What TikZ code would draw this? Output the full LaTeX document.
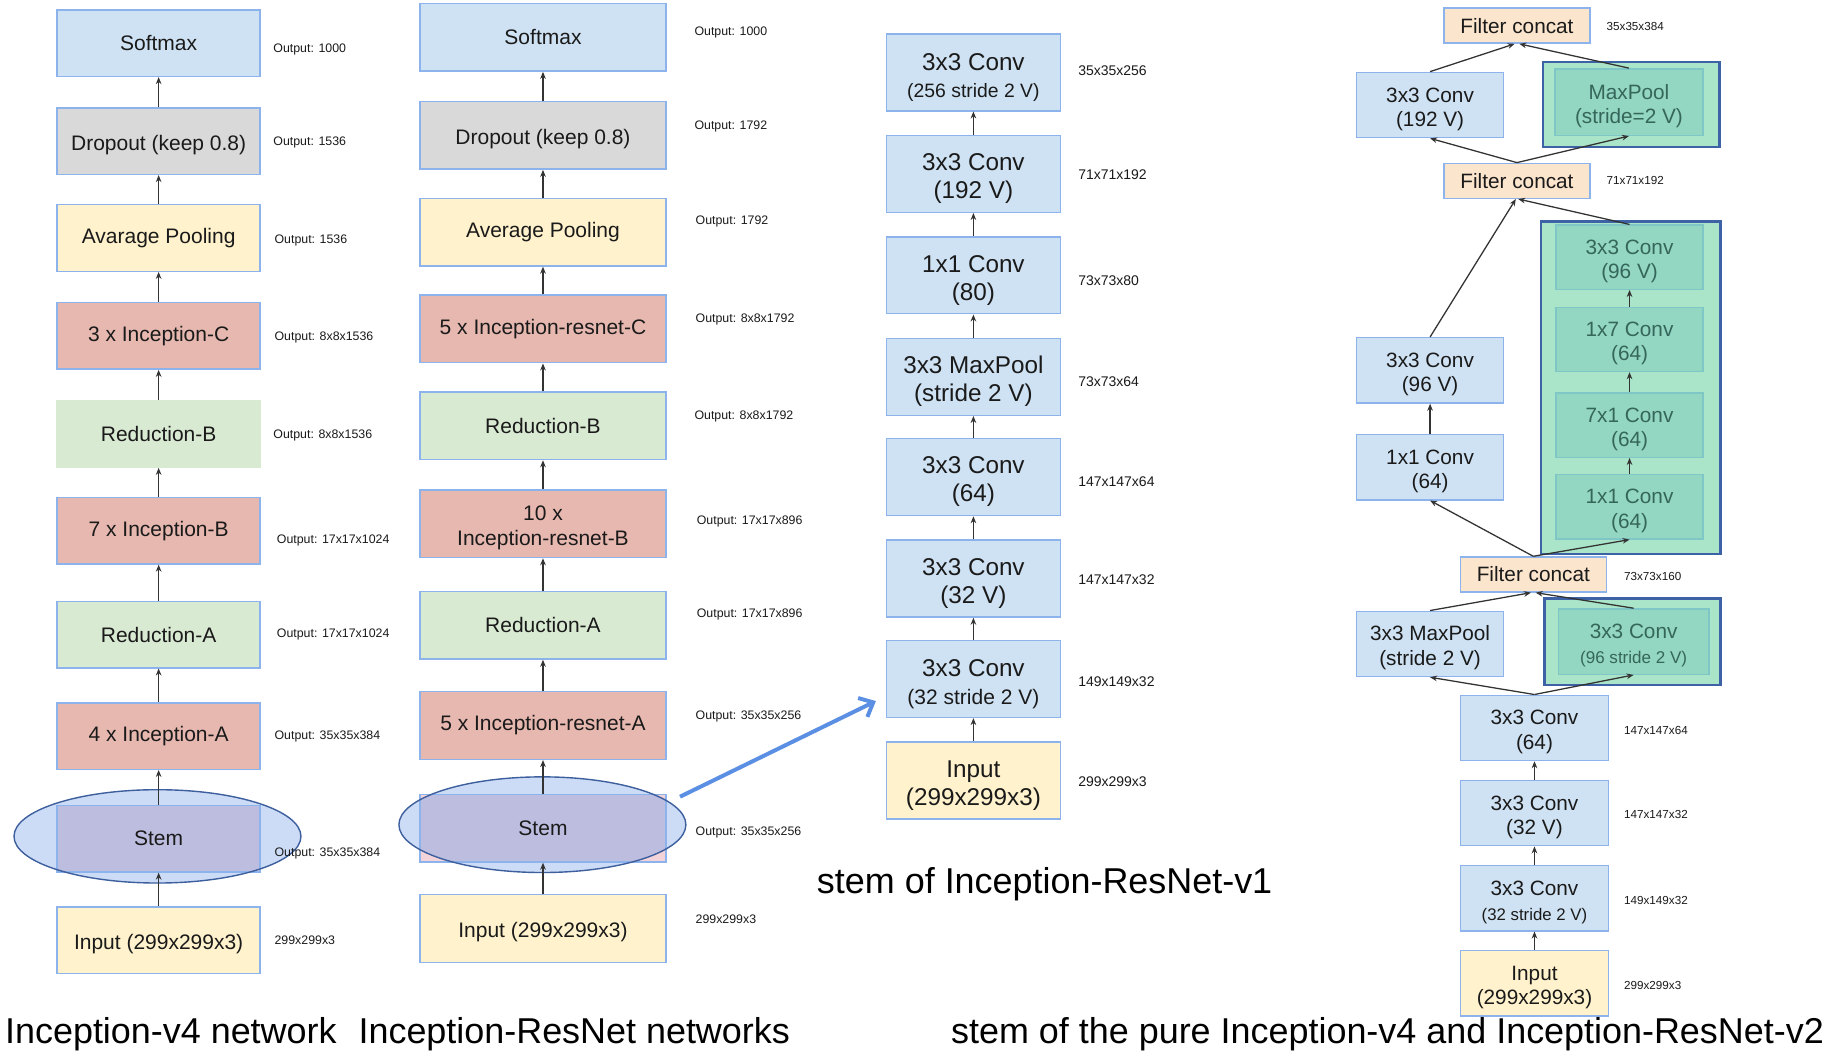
\documentclass[tikz,border=0pt]{standalone}
\usepackage{fontspec}
\setmainfont{Liberation Sans}
\usetikzlibrary{arrows.meta,shapes.geometric}
\definecolor{blueF}{HTML}{CFE2F3}
\definecolor{blueD}{HTML}{8DB3EC}
\definecolor{grayF}{HTML}{D9D9D9}
\definecolor{yelF}{HTML}{FFF2CC}
\definecolor{redF}{HTML}{E6B8AF}
\definecolor{grnF}{HTML}{D9EAD3}
\definecolor{orgF}{HTML}{FCE5CD}
\definecolor{mintF}{HTML}{ABE5C9}
\definecolor{tealF}{HTML}{93D6C2}
\definecolor{tealD}{HTML}{7FC6C6}
\definecolor{navy}{HTML}{3D62A6}
\definecolor{stemPink}{HTML}{F2D3DA}
\definecolor{stemMix}{HTML}{BDBDE0}
\definecolor{ellF}{HTML}{CDDCF6}
\definecolor{ellD}{HTML}{3D5F9E}
\definecolor{arrBlue}{HTML}{5B8FE3}
\definecolor{lineC}{HTML}{333333}
\definecolor{txt}{HTML}{1A1A1A}
\definecolor{gtxt}{HTML}{35665A}
\newcommand{\toppad}{\rule{0pt}{1.1em}}
\begin{document}
\begin{tikzpicture}[x=0.5pt,y=-0.5pt,
  blk/.style={draw=blueD, line width=0.6pt, inner sep=0pt, align=center, text=txt},
  colone/.style={blk, minimum width=87pt, minimum height=28.5pt, font=\fontsize{9}{11}\selectfont},
  coltwo/.style={blk, minimum width=105.5pt, minimum height=29pt, font=\fontsize{9}{11}\selectfont},
  colthree/.style={blk, fill=blueF, minimum width=74.5pt, minimum height=33pt, font=\fontsize{10.4}{12}\selectfont},
  colfour/.style={blk, fill=blueF, minimum width=63pt, minimum height=28pt, font=\fontsize{8.9}{10.5}\selectfont},
  fcbox/.style={blk, fill=orgF, minimum width=62.5pt, minimum height=15pt, font=\fontsize{8.9}{10.5}\selectfont},
  gin/.style={blk, draw=tealD, fill=tealF, text=gtxt, minimum width=63pt, minimum height=27.5pt, font=\fontsize{8.9}{10.5}\selectfont},
  gout/.style={draw=navy, line width=1pt, fill=mintF, inner sep=0pt},
  lab/.style={anchor=west, inner sep=0pt, text=txt, font=\fontsize{5.3}{6}\selectfont},
  labthree/.style={lab, font=\fontsize{6}{7}\selectfont},
  labfour/.style={lab, font=\fontsize{5}{6}\selectfont},
  arr/.style={draw=lineC, line width=0.55pt, -{Stealth[length=3pt,width=2.4pt]}},
  captxt/.style={anchor=base west, inner sep=0pt, text=black, font=\fontsize{15.4}{18}\selectfont},
  ellfill/.style={fill=ellF},
  ellline/.style={draw=ellD, line width=0.6pt, ellipse, inner sep=0pt, minimum width=123pt},
  bluearr/.style={draw=arrBlue, line width=1.7pt, -{Straight Barb[length=5pt,width=9pt]}},
]
\useasboundingbox (0,0) rectangle (1568,901);
\fill[white] (0,0) rectangle (1568,901);

% ---------------- Column 1: Inception-v4 ----------------
\node[colone, fill=blueF] (a1) at (136,37) {Softmax};
\node[colone, fill=grayF] (a2) at (136,121) {\toppad Dropout (keep 0.8)};
\node[colone, fill=yelF] (a3) at (136,204) {Avarage Pooling};
\node[colone, fill=redF] (a4) at (136,288) {3 x Inception-C};
\node[colone, fill=grnF, draw=grnF] (a5) at (136,372) {Reduction-B};
\node[colone, fill=redF] (a6) at (136,455) {7 x Inception-B};
\node[colone, fill=grnF] (a7) at (136,544) {Reduction-A};
\node[colone, fill=redF] (a8) at (136,631) {4 x Inception-A};
\fill[ellfill] (135,717) ellipse [x radius=61.5pt, y radius=20pt];
\node[colone, fill=stemPink, path picture={\fill[stemMix] ([shift={(-0.5pt,1pt)}]path picture bounding box.center) ellipse [x radius=61.5pt, y radius=20pt];}] (a9) at (136,719) {Stem};
\node[ellline, minimum height=40pt] (e1) at (135,717) {};
\node[colone, fill=yelF] (a10) at (136,806) {\toppad Input (299x299x3)};

\draw[arr] (a2.north) -- (a1.south);
\draw[arr] (a3.north) -- (a2.south);
\draw[arr] (a4.north) -- (a3.south);
\draw[arr] (a5.north) -- (a4.south);
\draw[arr] (a6.north) -- (a5.south);
\draw[arr] (a7.north) -- (a6.south);
\draw[arr] (a8.north) -- (a7.south);
\draw[arr] (a9.north) -- (a8.south);
\draw[arr] (a10.north) -- (a9.south);

\node[lab] (la1) at (234,42) {Output: 1000};
\node[lab] (la2) at (234,122) {Output: 1536};
\node[lab] (la3) at (235,206) {Output: 1536};
\node[lab] (la4) at (235,289) {Output: 8x8x1536};
\node[lab] (la5) at (234,373) {Output: 8x8x1536};
\node[lab] (la6) at (237,463) {Output: 17x17x1024};
\node[lab] (la7) at (237,544) {Output: 17x17x1024};
\node[lab] (la8) at (235,631) {Output: 35x35x384};
\node[lab] (la9) at (235,732) {Output: 35x35x384};
\node[lab] (la10) at (235,806) {299x299x3};

% ---------------- Column 2: Inception-ResNet ----------------
\node[coltwo, fill=blueF] (b1) at (465.5,32) {Softmax};
\node[coltwo, fill=grayF] (b2) at (465.5,116) {\toppad Dropout (keep 0.8)};
\node[coltwo, fill=yelF] (b3) at (465.5,199) {Average Pooling};
\node[coltwo, fill=redF] (b4) at (465.5,282) {5 x Inception-resnet-C};
\node[coltwo, fill=grnF] (b5) at (465.5,365) {Reduction-B};
\node[coltwo, fill=redF] (b6) at (465.5,449) {\toppad 10 x\\Inception-resnet-B};
\node[coltwo, fill=grnF] (b7) at (465.5,536) {Reduction-A};
\node[coltwo, fill=redF] (b8) at (465.5,622) {5 x Inception-resnet-A};
\fill[ellfill] (465,707) ellipse [x radius=61.5pt, y radius=20.5pt];
\node[coltwo, fill=stemPink, path picture={\fill[stemMix] ([shift={(-0.25pt,1.5pt)}]path picture bounding box.center) ellipse [x radius=61.5pt, y radius=20.5pt];}] (b9) at (465.5,710) {Stem};
\node[ellline, minimum height=41pt] (e2) at (465,707) {};
\node[coltwo, fill=yelF] (b10) at (465.5,796) {\toppad Input (299x299x3)};

\draw[arr] (b2.north) -- (b1.south);
\draw[arr] (b3.north) -- (b2.south);
\draw[arr] (b4.north) -- (b3.south);
\draw[arr] (b5.north) -- (b4.south);
\draw[arr] (b6.north) -- (b5.south);
\draw[arr] (b7.north) -- (b6.south);
\draw[arr] (b8.north) -- (b7.south);
\draw[arr] (b9.north) -- (b8.south);
\draw[arr] (b10.north) -- (b9.south);

\node[lab] (lb1) at (595,28) {Output: 1000};
\node[lab] (lb2) at (595,108) {Output: 1792};
\node[lab] (lb3) at (596,190) {Output: 1792};
\node[lab] (lb4) at (596,274) {Output: 8x8x1792};
\node[lab] (lb5) at (595,357) {Output: 8x8x1792};
\node[lab] (lb6) at (597,447) {Output: 17x17x896};
\node[lab] (lb7) at (597,527) {Output: 17x17x896};
\node[lab] (lb8) at (596,614) {Output: 35x35x256};
\node[lab] (lb9) at (596,714) {Output: 35x35x256};
\node[lab] (lb10) at (596,788) {299x299x3};

% ---------------- Column 3: stem of Inception-ResNet-v1 ----------------
\node[colthree] (k1) at (834.5,62) {\toppad 3x3 Conv\\[-0.5pt]{\fontsize{8.3}{10}\selectfont (256 stride 2 V)}};
\node[colthree] (k2) at (834.5,149) {\toppad 3x3 Conv\\(192 V)};
\node[colthree] (k3) at (834.5,236) {\toppad 1x1 Conv\\(80)};
\node[colthree] (k4) at (834.5,323) {\toppad 3x3 MaxPool\\(stride 2 V)};
\node[colthree] (k5) at (834.5,409) {\toppad 3x3 Conv\\(64)};
\node[colthree] (k6) at (834.5,496) {\toppad 3x3 Conv\\(32 V)};
\node[colthree] (k7) at (834.5,582) {\toppad 3x3 Conv\\{\fontsize{9}{11}\selectfont (32 stride 2 V)}};
\node[colthree, fill=yelF] (k8) at (834.5,669) {\toppad Input\\(299x299x3)};

\draw[arr] (k2.north) -- (k1.south);
\draw[arr] (k3.north) -- (k2.south);
\draw[arr] (k4.north) -- (k3.south);
\draw[arr] (k5.north) -- (k4.south);
\draw[arr] (k6.north) -- (k5.south);
\draw[arr] (k7.north) -- (k6.south);
\draw[arr] (k8.north) -- (k7.south);

\node[labthree] (lk1) at (924,61) {35x35x256};
\node[labthree] (lk2) at (924,150) {71x71x192};
\node[labthree] (lk3) at (924,241) {73x73x80};
\node[labthree] (lk4) at (924,327) {73x73x64};
\node[labthree] (lk5) at (924,413) {147x147x64};
\node[labthree] (lk6) at (924,497) {147x147x32};
\node[labthree] (lk7) at (924,584) {149x149x32};
\node[labthree] (lk8) at (924,670) {299x299x3};

% blue arrow from Stem to the stem detail
\coordinate (bs) at (583,683);
\draw[bluearr] (bs) -- ([shift={(-4.25pt,-9.5pt)}]k7.west);

% ---------------- Column 4: stem of pure Inception-v4 ----------------
\node[gout, minimum width=75.5pt, minimum height=36.5pt] (g1) at (1398.5,89.5) {};
\node[gout, minimum width=77pt, minimum height=142.5pt] (g2) at (1398,332.5) {};
\node[gout, minimum width=75.5pt, minimum height=37pt] (g3) at (1399.5,550) {};

\node[fcbox] (f1) at (1300.5,22) {Filter concat};
\node[colfour] (p1) at (1226,90) {\toppad 3x3 Conv\\(192 V)};
\node[gin, minimum width=63.5pt, minimum height=28.5pt] (q1) at (1396.5,87.5) {\toppad MaxPool\\(stride=2 V)};
\node[fcbox] (f2) at (1300.5,155) {Filter concat};

\node[gin] (r1) at (1397,220.5) {\toppad 3x3 Conv\\(96 V)};
\node[gin] (r2) at (1397,291) {\toppad 1x7 Conv\\(64)};
\node[gin] (r3) at (1397,364.5) {\toppad 7x1 Conv\\(64)};
\node[gin] (r4) at (1397,434.5) {\toppad 1x1 Conv\\(64)};

\node[colfour] (p2) at (1226,317.5) {\toppad 3x3 Conv\\(96 V)};
\node[colfour] (p3) at (1226,400.5) {\toppad 1x1 Conv\\(64)};

\node[fcbox] (f3) at (1314.5,492.5) {Filter concat};
\node[colfour] (p4) at (1226,552) {\toppad 3x3 MaxPool\\(stride 2 V)};
\node[gin, minimum width=64.5pt, minimum height=28pt] (q2) at (1400.5,550) {\toppad 3x3 Conv\\{\fontsize{7.3}{9}\selectfont (96 stride 2 V)}};

\node[colfour, minimum width=63.5pt] (m1) at (1315.5,624) {\toppad 3x3 Conv\\(64)};
\node[colfour, minimum width=63.5pt] (m2) at (1315.5,697) {\toppad 3x3 Conv\\(32 V)};
\node[colfour, minimum width=63.5pt] (m3) at (1315.5,770) {\toppad 3x3 Conv\\{\fontsize{7.2}{9}\selectfont (32 stride 2 V)}};
\node[colfour, minimum width=63.5pt, fill=yelF] (m4) at (1315.5,843) {\toppad Input\\(299x299x3)};

\draw[arr] (p1.north) -- ([xshift=-1pt]f1.south);
\draw[arr] (q1.north) -- ([xshift=1pt]f1.south);
\draw[arr] (f2.north) -- (p1.south);
\draw[arr] (f2.north) -- (q1.south);
\draw[arr] (p2.north) -- ([xshift=-0.5pt]f2.south);
\draw[arr] (r1.north) -- ([xshift=0.5pt]f2.south);
\draw[arr] (r2.north) -- (r1.south);
\draw[arr] (r3.north) -- (r2.south);
\draw[arr] (r4.north) -- (r3.south);
\draw[arr] (p3.north) -- (p2.south);
\draw[arr] (f3.north) -- (p3.south);
\draw[arr] (f3.north) -- (r4.south);
\draw[arr] (p4.north) -- ([xshift=-1pt]f3.south);
\draw[arr] (q2.north) -- ([xshift=1pt]f3.south);
\draw[arr] (m1.north) -- (p4.south);
\draw[arr] (m1.north) -- (q2.south);
\draw[arr] (m2.north) -- (m1.south);
\draw[arr] (m3.north) -- (m2.south);
\draw[arr] (m4.north) -- (m3.south);

\node[labfour] (lm1) at (1377,23) {35x35x384};
\node[labfour] (lm2) at (1377,155) {71x71x192};
\node[labfour] (lm3) at (1392,494) {73x73x160};
\node[labfour] (lm4) at (1392,626) {147x147x64};
\node[labfour] (lm5) at (1392,698) {147x147x32};
\node[labfour] (lm6) at (1392,772) {149x149x32};
\node[labfour] (lm7) at (1392,845) {299x299x3};

% ---------------- Captions ----------------
\node[captxt] (t1) at (4,895) {Inception-v4 network};
\node[captxt] (t2) at (307,895) {Inception-ResNet networks};
\node[captxt] (t3) at (700,766) {stem of Inception-ResNet-v1};
\node[captxt] (t4) at (815,895) {stem of the pure Inception-v4 and Inception-ResNet-v2};
\end{tikzpicture}
\end{document}
